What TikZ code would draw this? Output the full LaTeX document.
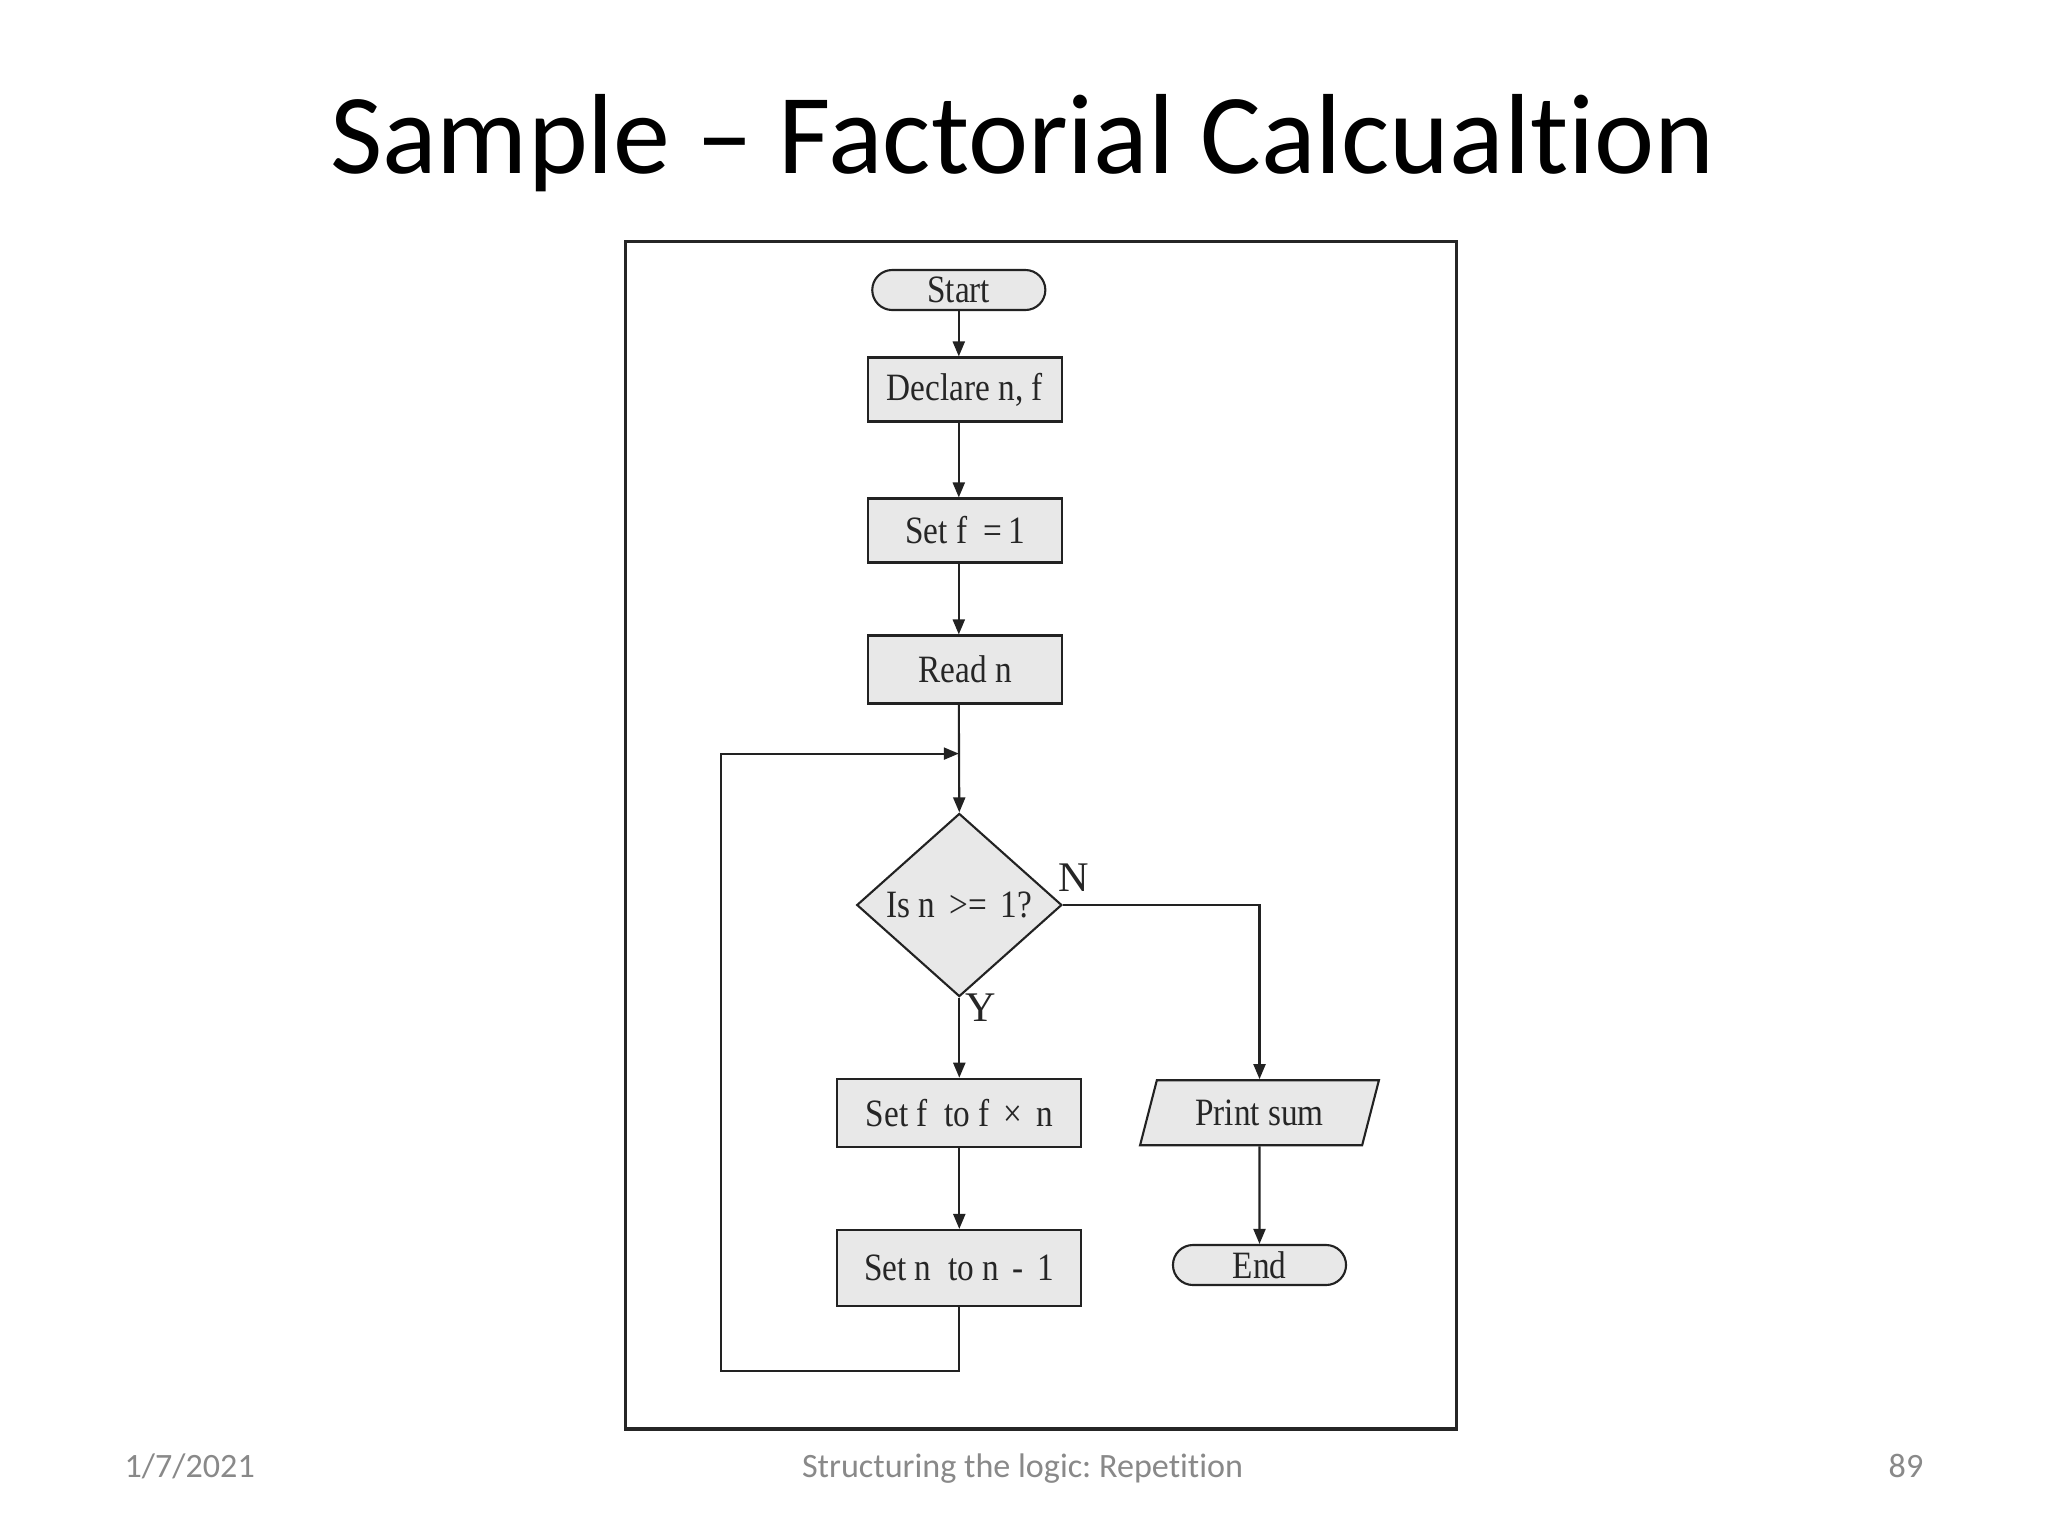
\documentclass[tikz,border=0pt]{standalone}
\usepackage{fontspec}
\usepackage{graphicx}
\setmainfont{Liberation Serif}
\newfontfamily\slidefont{Carlito}[Ligatures=NoCommon]
\usetikzlibrary{shapes.geometric,shapes.misc,arrows.meta}
\frenchspacing
\definecolor{boxfill}{HTML}{E8E8E8}
\definecolor{footgray}{HTML}{898989}
\definecolor{linecol}{HTML}{222222}
\newcommand{\cond}[1]{\scalebox{0.86}[1]{#1}}
\tikzset{
  x=0.01cm, y=-0.01cm,
  basebox/.style={draw=linecol, fill=boxfill, line width=0.6pt, inner sep=0pt,
    font=\fontsize{11}{13}\selectfont, text=black!85},
  proc/.style={basebox, rectangle, minimum width=19.4mm},
  wideproc/.style={basebox, rectangle, minimum width=24.4mm},
  term/.style={basebox, rounded rectangle, minimum width=17.3mm, minimum height=4mm},
  decision/.style={basebox, diamond, minimum width=20.5mm, minimum height=18.3mm},
  io/.style={basebox, trapezium, trapezium left angle=68, trapezium right angle=112,
    trapezium stretches=true, minimum width=23.9mm, minimum height=6.5mm},
  flow/.style={draw=linecol, line width=0.6pt, -{Triangle[length=1.5mm,width=1.2mm]}},
  branchlabel/.style={font=\fontsize{12}{14}\selectfont, text=black!85, inner sep=0pt},
  foot/.style={font=\slidefont\fontsize{9.7}{12}\selectfont, text=footgray, inner sep=0pt, anchor=base}
}
\begin{document}
\begin{tikzpicture}
\useasboundingbox[fill=white] (0,0) rectangle (2048,1536);
% title
\node[font=\slidefont\fontsize{32.4}{40}\selectfont, anchor=base, inner sep=0pt] (title) at (1022.6,173.7) {Sample – Factorial Calcualtion};
% frame
\draw[line width=0.9pt, draw=black!85] (625.6,241.6) rectangle (1456.3,1428.9);
% nodes
\node[term] (start) at (958.8,290) {\cond{Start}};
\node[proc, minimum height=6.4mm] (declare) at (965,389.5) {\cond{Declare n, f}};
\node[proc, minimum height=6.4mm] (setf) at (965,530.5) {\cond{Set f \ =\,1}};
\node[proc, minimum height=6.8mm] (read) at (965,669.5) {\cond{Read n}};
\node[decision] (dec) at (959.3,905) {\cond{Is n \,>=\, 1?}};
\node[wideproc, minimum height=6.8mm] (setfx) at (959.3,1112.8) {\cond{Set f \ to f \,×\, n}};
\node[wideproc, minimum height=7.6mm] (setn) at (959.3,1268) {\cond{Set n \ to n \,-\, 1}};
\node[io] (print) at (1259.5,1112.7) {\cond{Print sum}};
\node[term] (end) at (1259.5,1265) {\cond{End}};
\coordinate (col) at (958.8,0);
\coordinate (lb) at (721,1371);
\coordinate (lt) at (721,753.6);
% connectors
\draw[flow] (start.south) -- (start.south |- declare.north);
\draw[flow] (declare.south -| col) -- (setf.north -| col);
\draw[flow] (setf.south -| col) -- (read.north -| col);
\draw[flow] (read.south -| col) -- (dec.north);
\draw[flow] (dec.south) -- (setfx.north);
\draw[flow] (setfx.south) -- (setn.north);
\draw[flow] (setn.south) |- (lb) -- (lt) -- (lt -| col);
\draw[flow] (dec.east) -| (print.north);
\draw[flow] (print.south) -- (end.north);
% branch labels
\node[branchlabel] (nlab) at (1073.6,877.7) {N};
\node[branchlabel] (ylab) at (981,1008) {Y};
% footer
\node[foot, anchor=base west] (date) at (124,1477) {1/7/2021};
\node[foot] (ftitle) at (1022.6,1477) {Structuring the logic: Repetition};
\node[foot, anchor=base east] (page) at (1924,1477) {89};
\end{tikzpicture}
\end{document}
